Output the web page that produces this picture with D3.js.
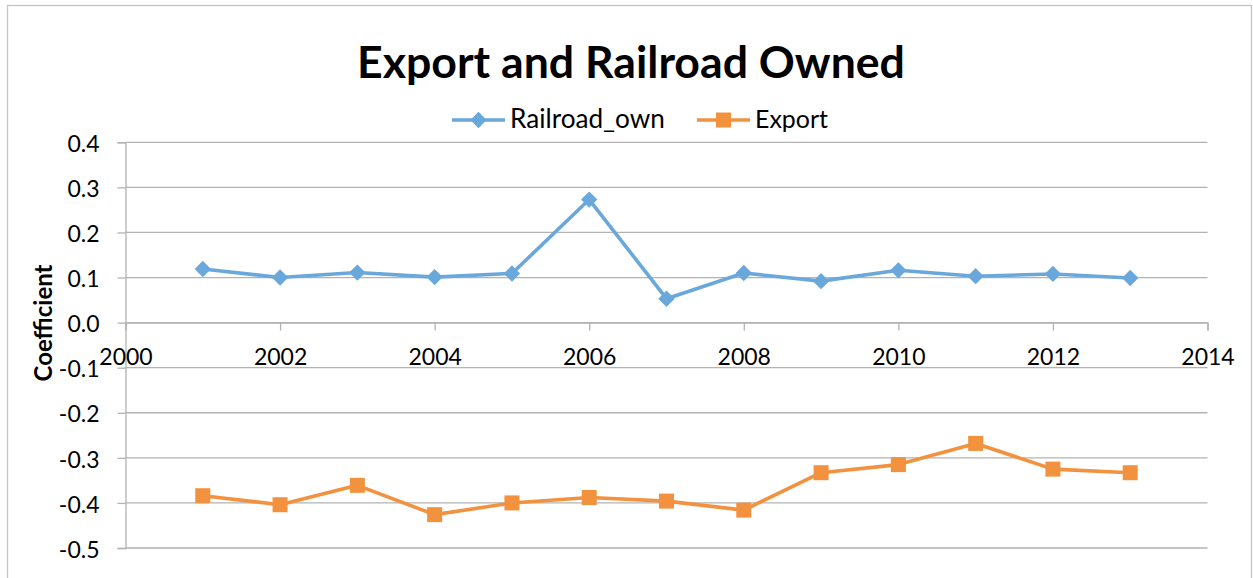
<!DOCTYPE html>
<html>
<head>
<meta charset="utf-8">
<script src="https://cdn.jsdelivr.net/npm/d3@7"></script>
<style>
  html, body { margin: 0; padding: 0; background: #fff; }
  svg { display: block; }
  text { font-family: Lato, "Open Sans", sans-serif; fill: #000; }
</style>
</head>
<body>
<svg id="chart" width="1253" height="578"></svg>
<script>
// Yearly coefficients for the two regressors
const years = [2001, 2002, 2003, 2004, 2005, 2006, 2007, 2008, 2009, 2010, 2011, 2012, 2013];
const railroadOwn = [0.119, 0.100, 0.111, 0.101, 0.109, 0.273, 0.053, 0.110, 0.092, 0.116, 0.103, 0.108, 0.099];
const exportCoef = [-0.384, -0.404, -0.361, -0.426, -0.400, -0.388, -0.396, -0.416, -0.333, -0.315, -0.268, -0.325, -0.333];

const xTicks = [2000, 2002, 2004, 2006, 2008, 2010, 2012, 2014];
const yTicks = [0.4, 0.3, 0.2, 0.1, 0.0, -0.1, -0.2, -0.3, -0.4, -0.5];

const titleText = "Export and Railroad Owned";
const yTitle = "Coefficient";
const seriesNames = ["Railroad_own", "Export"];
const colors = ["#6aa8dc", "#f2923f"];

const svg = d3.select("#chart");

// chart frame
svg.append("rect")
  .attr("x", 7.5).attr("y", 5.5)
  .attr("width", 1244).attr("height", 620)
  .attr("fill", "#fff").attr("stroke", "#c4c4c4").attr("stroke-width", 1.3);

const x = d3.scaleLinear().domain([2000, 2014]).range([125.5, 1207.5]);
const y = d3.scaleLinear().domain([-0.5, 0.4]).range([548, 142.3]);

// fit a text element to a target width by adjusting its font size
function fitWidth(sel, target) {
  const node = sel.node();
  const fs = parseFloat(sel.attr("font-size"));
  const w = node.getComputedTextLength();
  if (w > 0) sel.attr("font-size", fs * target / w);
}

// horizontal gridlines
svg.append("g")
  .selectAll("line")
  .data(yTicks)
  .join("line")
  .attr("x1", x(2000)).attr("x2", x(2014))
  .attr("y1", d => y(d)).attr("y2", d => y(d))
  .attr("stroke", "#b3b3b3").attr("stroke-width", 1.3);

// y axis
const yAxis = svg.append("g")
  .attr("transform", `translate(${x(2000)},0)`)
  .call(d3.axisLeft(y).tickValues(yTicks).tickFormat(d3.format(".1f")).tickSize(8).tickPadding(18));
yAxis.select(".domain").attr("stroke", "#b3b3b3").attr("stroke-width", 1.3);
yAxis.selectAll(".tick line").attr("stroke", "#b3b3b3").attr("stroke-width", 1.3);
yAxis.selectAll(".tick text")
  .attr("font-size", 23).attr("font-family", "Lato, sans-serif").attr("fill", "#000")
  .attr("dy", "0.4em")
  .text(d => d3.format(".1f")(d).replace("−", "-"));

// x axis crossing at zero
const xAxis = svg.append("g")
  .attr("transform", `translate(0,${y(0)})`)
  .call(d3.axisBottom(x).tickValues(xTicks).tickFormat(d3.format("d")).tickSize(8).tickPadding(18));
xAxis.select(".domain").attr("stroke", "#b3b3b3").attr("stroke-width", 1.3);
xAxis.selectAll(".tick line").attr("stroke", "#b3b3b3").attr("stroke-width", 1.3);
xAxis.selectAll(".tick text")
  .attr("font-size", 23).attr("font-family", "Lato, sans-serif").attr("fill", "#000");

// series lines and markers
const line = d3.line().x((d, i) => x(years[i])).y(d => y(d));
const seriesData = [railroadOwn, exportCoef];
const diamond = d3.symbol().type(d3.symbolDiamond2).size(170);

seriesData.forEach((vals, si) => {
  svg.append("path")
    .datum(vals)
    .attr("d", line)
    .attr("fill", "none")
    .attr("stroke", colors[si])
    .attr("stroke-width", 3.6)
    .attr("stroke-linejoin", "round");
  const g = svg.append("g");
  if (si === 0) {
    g.selectAll("path")
      .data(vals)
      .join("path")
      .attr("transform", (d, i) => `translate(${x(years[i])},${y(d)})`)
      .attr("d", diamond)
      .attr("fill", colors[si]);
  } else {
    g.selectAll("rect")
      .data(vals)
      .join("rect")
      .attr("x", (d, i) => x(years[i]) - 7.5)
      .attr("y", d => y(d) - 7.5)
      .attr("width", 15).attr("height", 15)
      .attr("fill", colors[si]);
  }
});

// title
const title = svg.append("text")
  .attr("x", 631).attr("y", 78)
  .attr("text-anchor", "middle")
  .attr("font-size", 44).attr("font-weight", "bold")
  .text(titleText);
fitWidth(title, 548);

// y axis title
const yt = svg.append("text")
  .attr("transform", "translate(52,323) rotate(-90)")
  .attr("text-anchor", "middle")
  .attr("font-size", 20).attr("font-weight", "bold")
  .text(yTitle);
fitWidth(yt, 117);

// legend
const legendItems = [
  { name: seriesNames[0], x0: 452, color: colors[0], shape: "diamond", textW: 155 },
  { name: seriesNames[1], x0: 697, color: colors[1], shape: "square", textW: 73 }
];
legendItems.forEach(it => {
  const ly = 120;
  svg.append("line")
    .attr("x1", it.x0).attr("x2", it.x0 + 53)
    .attr("y1", ly).attr("y2", ly)
    .attr("stroke", it.color).attr("stroke-width", 3.6);
  if (it.shape === "diamond") {
    svg.append("path")
      .attr("transform", `translate(${it.x0 + 26.5},${ly})`)
      .attr("d", diamond)
      .attr("fill", it.color);
  } else {
    svg.append("rect")
      .attr("x", it.x0 + 19).attr("y", ly - 7.5)
      .attr("width", 15).attr("height", 15)
      .attr("fill", it.color);
  }
  const t = svg.append("text")
    .attr("x", it.x0 + 58).attr("y", ly + 8)
    .attr("font-size", 22)
    .text(it.name);
  fitWidth(t, it.textW);
});
</script>
</body>
</html>
